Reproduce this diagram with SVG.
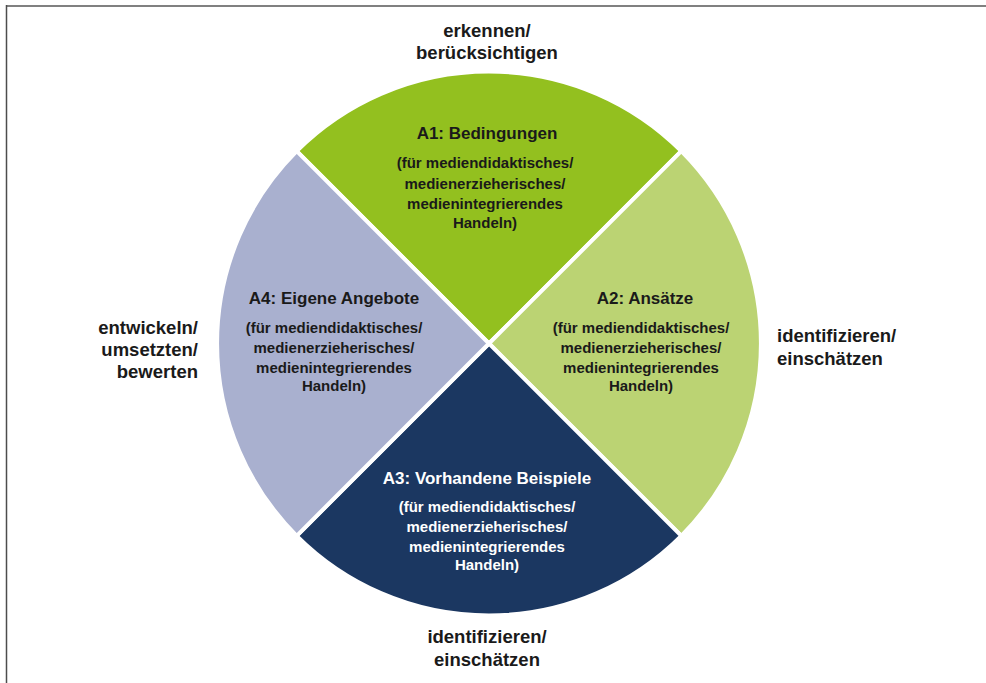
<svg xmlns="http://www.w3.org/2000/svg" width="986" height="683" viewBox="0 0 986 683">
<style>
.seg{stroke:#fff;stroke-width:4;stroke-linejoin:miter}
text{font-family:"Liberation Sans",Arial,sans-serif;font-weight:bold;text-anchor:middle;fill:#1a1a1a}
.t{font-size:17px}
.s{font-size:15px}
.o{font-size:18.5px}
.w{fill:#ffffff}
</style>
<rect width="986" height="683" fill="#fff"/>
<g id="frame">
<line x1="6" y1="6" x2="986" y2="6" stroke="#808080" stroke-width="2"/>
<line x1="6.5" y1="5" x2="6.5" y2="683" stroke="#4d4d4d" stroke-width="1.5"/>
</g>
<g id="A1">
<path class="seg" d="M489 343.5 L296.7 151.2 A272 272 0 0 1 681.3 151.2 Z" fill="#93c01f"/>
<text class="t" x="487" y="139">A1: Bedingungen</text>
<text class="s" x="485" y="168">(für mediendidaktisches/</text>
<text class="s" x="485" y="188.5">medienerzieherisches/</text>
<text class="s" x="485" y="209">medienintegrierendes</text>
<text class="s" x="485" y="228">Handeln)</text>
</g>
<g id="A2">
<path class="seg" d="M489 343.5 L681.3 151.2 A272 272 0 0 1 681.3 535.8 Z" fill="#bbd373"/>
<text class="t" x="645" y="304">A2: Ansätze</text>
<text class="s" x="641" y="333">(für mediendidaktisches/</text>
<text class="s" x="641" y="353">medienerzieherisches/</text>
<text class="s" x="641" y="373">medienintegrierendes</text>
<text class="s" x="641" y="391">Handeln)</text>
</g>
<g id="A3">
<path class="seg" d="M489 343.5 L681.3 535.8 A272 272 0 0 1 296.7 535.8 Z" fill="#1b3761"/>
<text class="t w" x="487" y="484">A3: Vorhandene Beispiele</text>
<text class="s w" x="487" y="512">(für mediendidaktisches/</text>
<text class="s w" x="487" y="532">medienerzieherisches/</text>
<text class="s w" x="487" y="552">medienintegrierendes</text>
<text class="s w" x="487" y="570">Handeln)</text>
</g>
<g id="A4">
<path class="seg" d="M489 343.5 L296.7 535.8 A272 272 0 0 1 296.7 151.2 Z" fill="#a9b0cf"/>
<text class="t" x="334" y="304">A4: Eigene Angebote</text>
<text class="s" x="334" y="333">(für mediendidaktisches/</text>
<text class="s" x="334" y="353">medienerzieherisches/</text>
<text class="s" x="334" y="373">medienintegrierendes</text>
<text class="s" x="334" y="391">Handeln)</text>
</g>
<g id="label-top">
<text class="o" x="487" y="37">erkennen/</text>
<text class="o" x="487" y="59">berücksichtigen</text>
</g>
<g id="label-left">
<text class="o" x="198" y="334" style="text-anchor:end">entwickeln/</text>
<text class="o" x="198" y="356" style="text-anchor:end">umsetzten/</text>
<text class="o" x="198" y="378" style="text-anchor:end">bewerten</text>
</g>
<g id="label-right">
<text class="o" x="777" y="342" style="text-anchor:start">identifizieren/</text>
<text class="o" x="777" y="365" style="text-anchor:start">einschätzen</text>
</g>
<g id="label-bottom">
<text class="o" x="487" y="643">identifizieren/</text>
<text class="o" x="487" y="666">einschätzen</text>
</g>
<g id="connectors"></g>
</svg>
